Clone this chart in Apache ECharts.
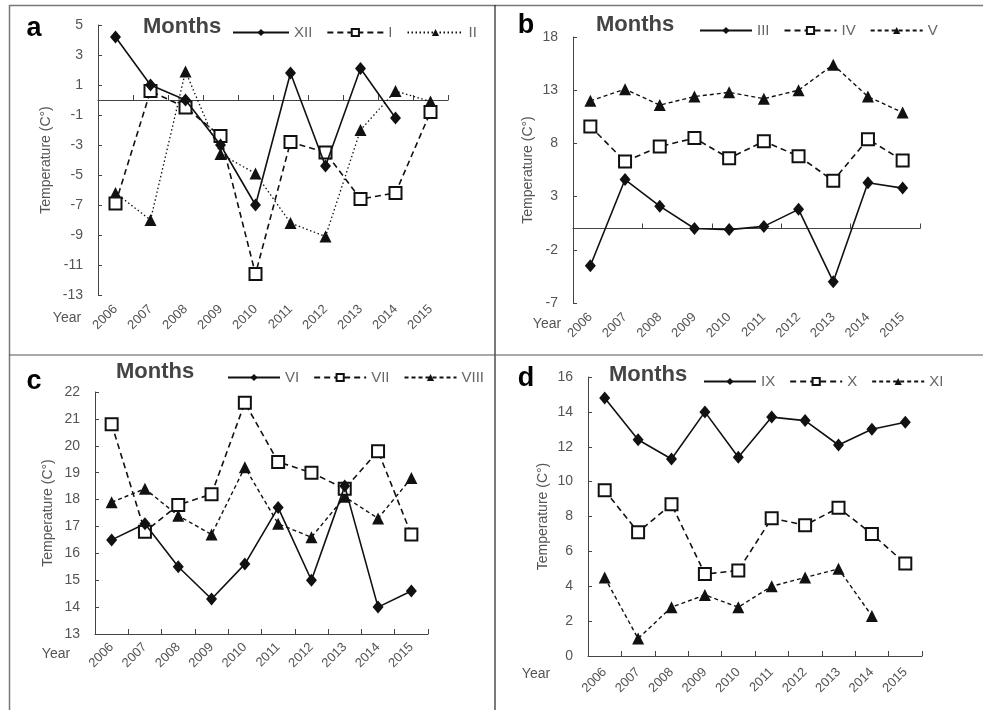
<!DOCTYPE html>
<html>
<head>
<meta charset="utf-8">
<script src="https://cdn.jsdelivr.net/npm/echarts@6/dist/echarts.min.js"></script>
<style>
  html, body { margin: 0; padding: 0; background: #fff; }
  #main { width: 983px; height: 710px; }
</style>
</head>
<body>
<div id="main"></div>
<script>
var years = ['2006', '2007', '2008', '2009', '2010', '2011', '2012', '2013', '2014', '2015'];

// panel a (winter)
var monthXII = [4.2, 1.0, 0.0, -3.0, -7.0, 1.8, -4.4, 2.1, -1.2, null];
var monthI = [-6.9, 0.6, -0.5, -2.4, -11.6, -2.8, -3.5, -6.6, -6.2, -0.8];
var monthII = [-6.2, -8.0, 1.9, -3.6, -4.9, -8.2, -9.1, -2.0, 0.6, -0.1];
// panel b (spring)
var monthIII = [-3.5, 4.6, 2.1, 0.0, -0.1, 0.2, 1.8, -5.0, 4.3, 3.8];
var monthIV = [9.6, 6.3, 7.7, 8.5, 6.6, 8.2, 6.8, 4.5, 8.4, 6.4];
var monthV = [12.0, 13.1, 11.6, 12.4, 12.8, 12.2, 13.0, 15.4, 12.4, 10.9];
// panel c (summer)
var monthVI = [16.5, 17.1, 15.5, 14.3, 15.6, 17.7, 15.0, 18.5, 14.0, 14.6];
var monthVII = [20.8, 16.8, 17.8, 18.2, 21.6, 19.4, 19.0, 18.4, 19.8, 16.7];
var monthVIII = [17.9, 18.4, 17.4, 16.7, 19.2, 17.1, 16.6, 18.1, 17.3, 18.8];
// panel d (autumn)
var monthIX = [14.8, 12.4, 11.3, 14.0, 11.4, 13.7, 13.5, 12.1, 13.0, 13.4];
var monthX = [9.5, 7.1, 8.7, 4.7, 4.9, 7.9, 7.5, 8.5, 7.0, 5.3];
var monthXI = [4.5, 1.0, 2.8, 3.5, 2.8, 4.0, 4.5, 5.0, 2.3, null];

var yMin = [-13, -7, 13, 0];
var yMax = [5, 18, 22, 16];
var yStep = [2, 5, 1, 2];

var panels = [
  {letter: 'a', names: ['XII', 'I', 'II'], data: [monthXII, monthI, monthII], zeroLine: true},
  {letter: 'b', names: ['III', 'IV', 'V'], data: [monthIII, monthIV, monthV], zeroLine: true},
  {letter: 'c', names: ['VI', 'VII', 'VIII'], data: [monthVI, monthVII, monthVIII], zeroLine: false},
  {letter: 'd', names: ['IX', 'X', 'XI'], data: [monthIX, monthX, monthXI], zeroLine: false}
];

var grids = [
  {left: 98, top: 25, width: 350, height: 270},
  {left: 573, top: 37, width: 347, height: 266},
  {left: 95, top: 392, width: 333, height: 242},
  {left: 588, top: 377, width: 334, height: 279}
];
var nameGaps = [45, 38, 40, 38];
var labelMargins = [12, 12, 11, 14];
var legendPos = [[227, 20], [694, 18], [222, 365], [698, 369]];
var legendWidth = [56, 52, 52, 52];
var monthsPos = [[185, 28], [638, 26], [158, 373], [651, 376]];
var letterPos = [[34, 29], [526, 26], [34, 382], [526, 379]];
var yearPos = [[67, 318], [547, 324], [56, 654], [536, 674]];

var font = 'Liberation Sans, Arial, sans-serif';
var ink = '#111';
var textGray = '#555';

var styles = [
  {symbol: 'diamond', size: [11, 13], type: 'solid', width: 1.6},
  {symbol: 'emptyRect', size: 12, type: [6, 4], width: 1.6},
  {symbol: 'triangle', size: 12, type: [4, 3], width: 1.4}
];

var xAxes = [], yAxes = [], series = [], legends = [], graphics = [];

panels.forEach(function (p, i) {
  var labelAxisIndex = xAxes.length;
  xAxes.push({
    type: 'category', gridIndex: i, data: years, position: 'bottom', boundaryGap: true,
    axisLine: {show: !p.zeroLine, onZero: false, lineStyle: {color: '#444', width: 1}},
    axisTick: {show: !p.zeroLine, inside: true, length: 5, lineStyle: {color: '#444'}},
    axisLabel: {rotate: 45, margin: labelMargins[i], color: textGray, fontFamily: font, fontSize: 13, interval: 0},
    splitLine: {show: false}
  });
  if (p.zeroLine) {
    xAxes.push({
      type: 'category', gridIndex: i, data: years, position: 'bottom', boundaryGap: true,
      axisLine: {show: true, onZero: true, lineStyle: {color: '#444', width: 1}},
      axisTick: {show: true, inside: true, length: 5, lineStyle: {color: '#444'}},
      axisLabel: {show: false},
      splitLine: {show: false}
    });
  }
  yAxes.push({
    type: 'value', gridIndex: i, min: yMin[i], max: yMax[i], interval: yStep[i],
    name: 'Temperature (C°)', nameLocation: 'middle', nameGap: nameGaps[i], nameRotate: 90,
    nameTextStyle: {color: textGray, fontFamily: font, fontSize: 14},
    axisLine: {show: true, lineStyle: {color: '#444', width: 1}},
    axisTick: {show: true, inside: true, length: 4, lineStyle: {color: '#444'}},
    axisLabel: {margin: 15, color: textGray, fontFamily: font, fontSize: 14},
    splitLine: {show: false}
  });
  p.names.forEach(function (name, k) {
    var st = styles[k];
    if (i === 0 && k === 2) st = {symbol: 'triangle', size: 12, type: [1.5, 2.5], width: 1.3};
    series.push({
      name: name, type: 'line', xAxisIndex: labelAxisIndex, yAxisIndex: i,
      data: p.data[k], symbol: st.symbol, symbolSize: st.size, showAllSymbol: true,
      connectNulls: false,
      lineStyle: {color: ink, width: st.width, type: st.type},
      itemStyle: {color: ink, borderColor: ink, borderWidth: k === 1 ? 2 : 0},
      emphasis: {disabled: true},
      z: 3 - k
    });
  });
  legends.push({
    data: p.names, left: legendPos[i][0], top: legendPos[i][1], orient: 'horizontal',
    itemWidth: legendWidth[i], itemHeight: 9, itemGap: 14,
    textStyle: {color: '#666', fontFamily: font, fontSize: 15},
    selectedMode: false
  });
  graphics.push({
    type: 'text', left: monthsPos[i][0] - 42, top: monthsPos[i][1] - 12,
    style: {text: 'Months', fill: '#444', font: 'bold 22px ' + font}
  });
  graphics.push({
    type: 'text', x: letterPos[i][0], y: letterPos[i][1],
    style: {text: p.letter, fill: '#000', font: 'bold 27px ' + font, align: 'center', verticalAlign: 'middle'}
  });
  graphics.push({
    type: 'text', x: yearPos[i][0], y: yearPos[i][1],
    style: {text: 'Year', fill: textGray, font: '14px ' + font, align: 'center', verticalAlign: 'middle'}
  });
});

// panel frame lines
graphics.push({type: 'line', shape: {x1: 9, y1: 5.5, x2: 983, y2: 5.5}, style: {stroke: '#777', lineWidth: 1.5}});
graphics.push({type: 'line', shape: {x1: 9.5, y1: 5, x2: 9.5, y2: 710}, style: {stroke: '#777', lineWidth: 1.5}});
graphics.push({type: 'line', shape: {x1: 495, y1: 5, x2: 495, y2: 710}, style: {stroke: '#222', lineWidth: 1.2}});
graphics.push({type: 'line', shape: {x1: 9, y1: 355, x2: 983, y2: 355}, style: {stroke: '#555', lineWidth: 1.2}});

var chart = echarts.init(document.getElementById('main'));
var option = {
  animation: false,
  backgroundColor: '#fff',
  grid: grids,
  xAxis: xAxes,
  yAxis: yAxes,
  legend: legends,
  series: series,
  graphic: graphics
};
chart.setOption(option);
</script>
</body>
</html>
